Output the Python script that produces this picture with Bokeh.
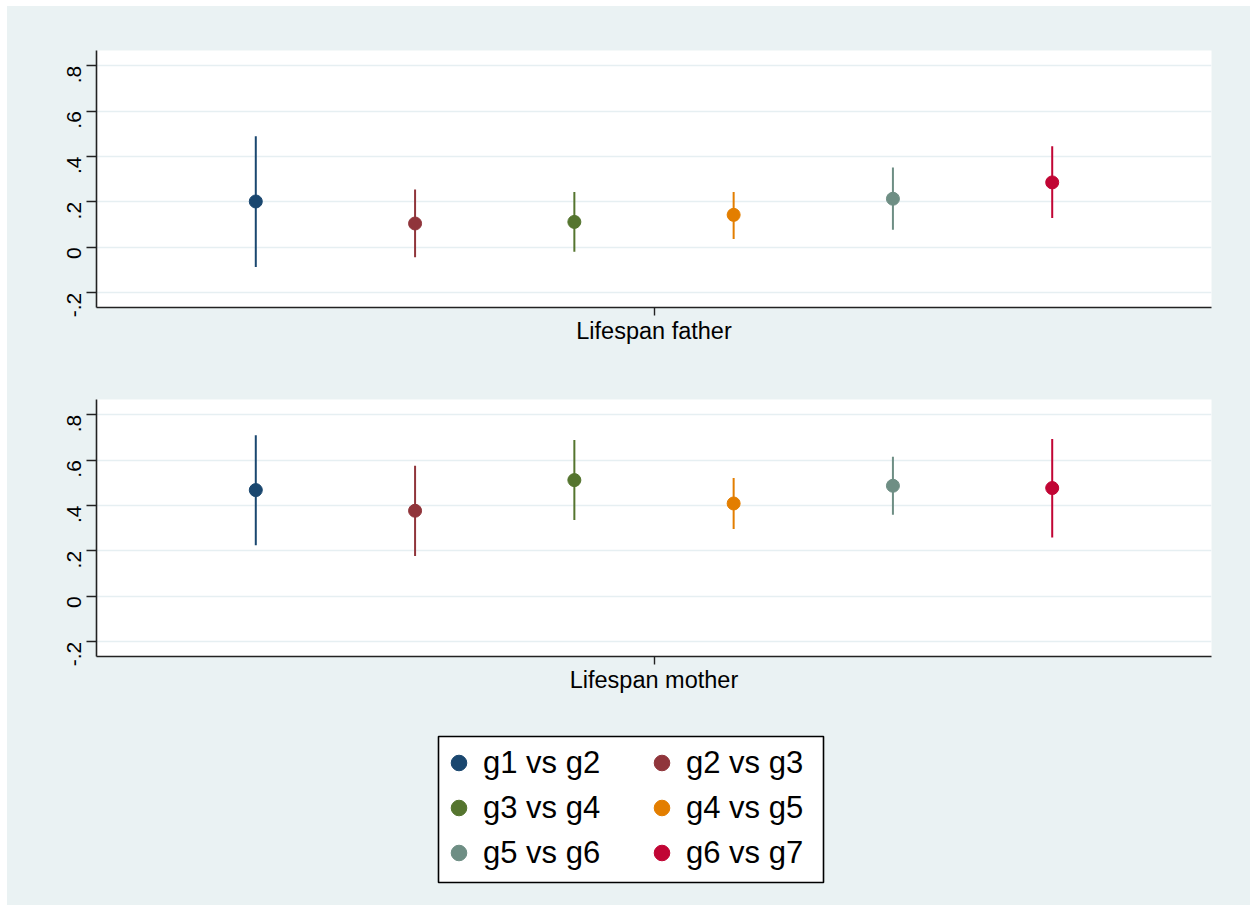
import math
from bokeh.plotting import figure
from bokeh.models import FixedTicker, Range1d, Legend, LegendItem, BoxAnnotation
from bokeh.layouts import column
from bokeh.embed import file_html
from bokeh.resources import INLINE

# ---------------- data ----------------
panels = ["Lifespan father", "Lifespan mother"]
groups = ["g1 vs g2", "g2 vs g3", "g3 vs g4", "g4 vs g5", "g5 vs g6", "g6 vs g7"]
colors = ["#1A476F", "#90353B", "#55752F", "#E37E00", "#6E8E84", "#C10534"]

father_est = [0.202, 0.105, 0.112, 0.143, 0.214, 0.286]
father_lo = [-0.087, -0.044, -0.019, 0.037, 0.077, 0.129]
father_hi = [0.489, 0.255, 0.244, 0.244, 0.352, 0.445]

mother_est = [0.468, 0.377, 0.512, 0.409, 0.487, 0.477]
mother_lo = [0.225, 0.178, 0.336, 0.297, 0.359, 0.259]
mother_hi = [0.709, 0.575, 0.689, 0.521, 0.615, 0.693]

y_ticks = [-0.2, 0, 0.2, 0.4, 0.6, 0.8]
y_tick_labels = ["-.2", "0", ".2", ".4", ".6", ".8"]

# ---------------- style ----------------
BG = "#EAF2F3"
GRID = "#E6EFF2"
FONT = "Liberation Sans"
W = 1243
BL, BR = 89, 39           # left / right borders shared by all rows
FRAME_W = W - BL - BR

positions = list(range(1, len(groups) + 1))
center = (len(groups) + 1) / 2


def make_panel(title, est, lo, hi, height, top, bottom):
    p = figure(width=W, height=height, output_backend="svg", toolbar_location=None,
               x_range=Range1d(0, len(groups) + 1), y_range=Range1d(-0.265, 0.867),
               min_border_left=BL, min_border_right=BR, min_border_top=top,
               min_border_bottom=bottom)
    p.background_fill_color = "white"
    p.border_fill_color = BG
    p.outline_line_color = None

    p.yaxis.ticker = FixedTicker(ticks=y_ticks)
    p.yaxis.major_label_overrides = {t: l for t, l in zip(y_ticks, y_tick_labels)}
    p.yaxis.major_label_orientation = math.pi / 2
    p.yaxis.major_label_text_font = FONT
    p.yaxis.major_label_text_font_size = "21px"
    p.yaxis.major_label_text_color = "black"
    p.yaxis.major_label_standoff = 12
    p.yaxis.major_tick_out = 10
    p.yaxis.major_tick_in = 0
    p.yaxis.minor_tick_out = 0
    p.yaxis.minor_tick_in = 0

    p.xaxis.ticker = FixedTicker(ticks=[center])
    p.xaxis.major_label_overrides = {center: title}
    p.xaxis.major_label_text_font = FONT
    p.xaxis.major_label_text_font_size = "23.5px"
    p.xaxis.major_label_text_color = "black"
    p.xaxis.major_label_standoff = 2
    p.xaxis.major_tick_out = 8
    p.xaxis.major_tick_in = 0
    p.xaxis.minor_tick_out = 0
    p.xaxis.minor_tick_in = 0

    for ax in (p.xaxis, p.yaxis):
        ax.axis_line_color = "#222222"
        ax.axis_line_width = 1.6
        ax.major_tick_line_color = "#222222"
        ax.major_tick_line_width = 1.4

    p.xgrid.visible = False
    p.ygrid.grid_line_color = GRID
    p.ygrid.grid_line_width = 1.6

    for i in range(len(groups)):
        p.segment(x0=[positions[i]], y0=[lo[i]], x1=[positions[i]], y1=[hi[i]],
                  line_color=colors[i], line_width=2)
        p.scatter(x=[positions[i]], y=[est[i]], size=13, marker="circle",
                  fill_color=colors[i], line_color=colors[i])
    return p


p1 = make_panel(panels[0], father_est, father_lo, father_hi, 350, 44, 49)
p2 = make_panel(panels[1], mother_est, mother_lo, mother_hi, 350, 43, 50)

# legend row: frame measured in pixels
H3 = 199
p3 = figure(width=W, height=H3, output_backend="svg", toolbar_location=None,
            x_axis_type=None, y_axis_type=None,
            x_range=Range1d(0, FRAME_W), y_range=Range1d(0, H3),
            min_border_left=BL, min_border_right=BR,
            min_border_top=0, min_border_bottom=0)
p3.background_fill_alpha = 0
p3.border_fill_color = BG
p3.outline_line_color = None
p3.grid.visible = False

# legend box (pixel layout inside the legend row)
box = BoxAnnotation(left=342, right=727, bottom=23, top=169,
                    fill_color="white", fill_alpha=1.0,
                    line_color="black", line_alpha=1.0, line_width=1.6,
                    level="underlay")
p3.add_layout(box)

items = []
for i, g in enumerate(groups):
    r = p3.scatter(x=[-1000], y=[-1000], marker="circle",
                   fill_color=colors[i], line_color=colors[i])
    items.append(LegendItem(label=g, renderers=[r]))

legend = Legend(items=items, orientation="horizontal", ncols=2, location=(343, 33),
                padding=0, spacing=6, margin=0,
                glyph_width=39, glyph_height=39, label_standoff=5,
                label_width=153, label_height=37,
                label_text_font=FONT, label_text_font_size="31px",
                label_text_color="black",
                border_line_color=None, background_fill_alpha=0)
p3.add_layout(legend)

layout = column(p1, p2, p3, spacing=0, margin=(6, 0, 0, 7),
                styles={"background-color": BG})
open("out.html", "w").write(file_html(layout, INLINE))
